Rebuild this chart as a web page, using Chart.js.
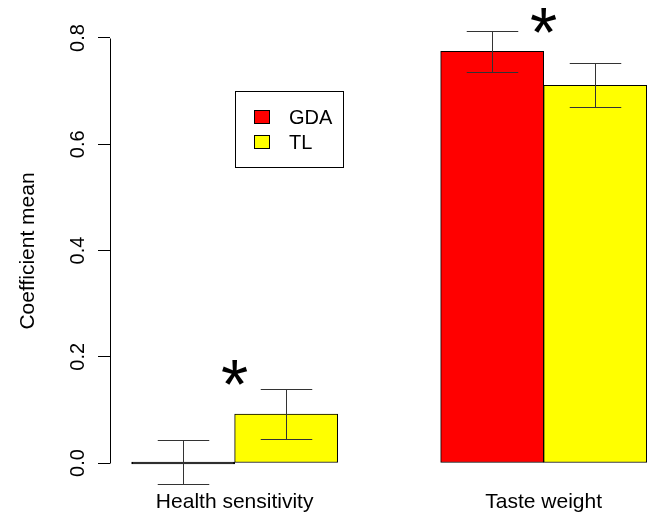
<!DOCTYPE html>
<html lang="en">
<head>
  <meta charset="UTF-8">
  <title>Coefficient mean</title>
  <script src="https://cdn.jsdelivr.net/npm/chart.js"></script>
  <style>
    body { margin: 0; background: #fff; }
    canvas { display: block; }
  </style>
</head>
<body>
  <canvas id="chart" width="647" height="513"></canvas>
  <script>
    // values
    const categories = ['Health sensitivity', 'Taste weight'];
    const seriesNames = ['GDA', 'TL'];
    const seriesColors = ['#ff0000', '#ffff00'];
    const gdaMean = [0.000, 0.775];
    const gdaLower = [-0.040, 0.736];
    const gdaUpper = [0.043, 0.814];
    const tlMean = [0.092, 0.711];
    const tlLower = [0.045, 0.670];
    const tlUpper = [0.139, 0.753];
    const significance = ['*', '*'];
    const starLevel = [0.168, 0.831];
    const yTicks = [0, 0.2, 0.4, 0.6, 0.8];

    const FONT = "'Liberation Sans', Arial, Helvetica, sans-serif";
    Chart.defaults.font.family = FONT;
    Chart.defaults.font.size = 20;
    Chart.defaults.color = '#000';

    // R barplot layout: each group takes 3 units (space 1, then 2 bars)
    const groupCenter = i => 2 + 3 * i;

    const errorBars = {
      id: 'errorBars',
      afterDatasetsDraw(chart) {
        const ctx = chart.ctx;
        const x = chart.scales.x, y = chart.scales.y;
        const half = (x.getPixelForValue(1) - x.getPixelForValue(0)) / 4;
        ctx.save();
        ctx.strokeStyle = '#333';
        ctx.lineWidth = 1;
        chart.data.datasets.forEach(ds => {
          ds.data.forEach((p, j) => {
            const px = Math.round(x.getPixelForValue(p.x)) + 0.5;
            const lo = Math.round(y.getPixelForValue(ds.lower[j])) + 0.5;
            const hi = Math.round(y.getPixelForValue(ds.upper[j])) + 0.5;
            ctx.beginPath();
            ctx.moveTo(px, lo); ctx.lineTo(px, hi);
            ctx.moveTo(px - half, lo); ctx.lineTo(px + half, lo);
            ctx.moveTo(px - half, hi); ctx.lineTo(px + half, hi);
            ctx.stroke();
          });
        });
        // significance stars above each group
        ctx.fillStyle = '#000';
        ctx.font = '70px ' + FONT;
        ctx.textAlign = 'center';
        ctx.textBaseline = 'alphabetic';
        significance.forEach((s, i) => {
          if (!s) return;
          ctx.fillText(s, x.getPixelForValue(groupCenter(i)), y.getPixelForValue(starLevel[i]) + 35);
        });
        ctx.restore();
      }
    };

    const leftAxis = {
      id: 'leftAxis',
      afterDraw(chart) {
        const ctx = chart.ctx, y = chart.scales.y;
        const ax = chart.chartArea.left + 0.5;
        ctx.save();
        ctx.strokeStyle = '#000';
        ctx.lineWidth = 1;
        ctx.beginPath();
        ctx.moveTo(ax, Math.round(y.getPixelForValue(yTicks[0])) + 0.5);
        ctx.lineTo(ax, Math.round(y.getPixelForValue(yTicks[yTicks.length - 1])) + 0.5);
        ctx.stroke();
        ctx.restore();
      }
    };

    const boxLegend = {
      id: 'boxLegend',
      afterDraw(chart) {
        const ctx = chart.ctx;
        ctx.save();
        ctx.strokeStyle = '#000';
        ctx.lineWidth = 1;
        ctx.strokeRect(235.5, 91.5, 108, 76);
        ctx.font = '20px ' + FONT;
        ctx.textAlign = 'left';
        ctx.textBaseline = 'middle';
        seriesNames.forEach((name, i) => {
          const cy = 117 + i * 25;
          ctx.fillStyle = seriesColors[i];
          ctx.fillRect(254, cy - 7, 15, 14);
          ctx.strokeRect(254.5, cy - 6.5, 15, 13);
          ctx.fillStyle = '#000';
          ctx.fillText(name, 289, cy + 1);
        });
        ctx.restore();
      }
    };

    const barStyle = {
      borderColor: '#000',
      borderWidth: 1,
      borderSkipped: false,
      grouped: false,
      barPercentage: 1,
      categoryPercentage: 1,
      minBarLength: 2
    };
    // a zero-height bar shows only as its black outline
    const fillFor = color => c => (c.raw && c.raw.y === 0 ? '#000' : color);

    new Chart(document.getElementById('chart'), {
      type: 'bar',
      data: {
        datasets: [
          Object.assign({
            label: seriesNames[0],
            data: gdaMean.map((v, i) => ({ x: groupCenter(i) - 0.5, y: v })),
            lower: gdaLower,
            upper: gdaUpper,
            backgroundColor: fillFor(seriesColors[0])
          }, barStyle),
          Object.assign({
            label: seriesNames[1],
            data: tlMean.map((v, i) => ({ x: groupCenter(i) + 0.5, y: v })),
            lower: tlLower,
            upper: tlUpper,
            backgroundColor: fillFor(seriesColors[1])
          }, barStyle)
        ]
      },
      options: {
        responsive: false,
        animation: false,
        layout: { padding: { top: 15, left: 0, right: 0, bottom: 0 } },
        plugins: { legend: { display: false }, tooltip: { enabled: false } },
        scales: {
          x: {
            type: 'linear',
            min: 0.79,
            max: 6.003,
            offset: false,
            grid: { display: false, drawTicks: false },
            border: { display: false },
            afterBuildTicks: s => { s.ticks = categories.map((c, i) => ({ value: groupCenter(i) })); },
            afterFit: s => { s.height = 26; s.paddingLeft = 0; s.paddingRight = 0; },
            ticks: {
              padding: 3,
              font: { size: 21 },
              callback: (v, i) => categories[i]
            }
          },
          y: {
            min: -0.045176,
            max: 0.84329,
            grid: { drawOnChartArea: false, drawTicks: true, tickLength: 12, color: '#000' },
            border: { display: false },
            afterBuildTicks: s => { s.ticks = yTicks.map(v => ({ value: v })); },
            afterFit: s => { s.width = 110; s.paddingTop = 0; s.paddingBottom = 0; },
            ticks: {
              minRotation: 90,
              maxRotation: 90,
              crossAlign: 'center',
              padding: 6,
              callback: v => v.toFixed(1)
            },
            title: {
              display: true,
              text: 'Coefficient mean',
              font: { size: 21 },
              padding: { top: 16, bottom: 0 }
            }
          }
        }
      },
      plugins: [errorBars, leftAxis, boxLegend]
    });
  </script>
</body>
</html>
